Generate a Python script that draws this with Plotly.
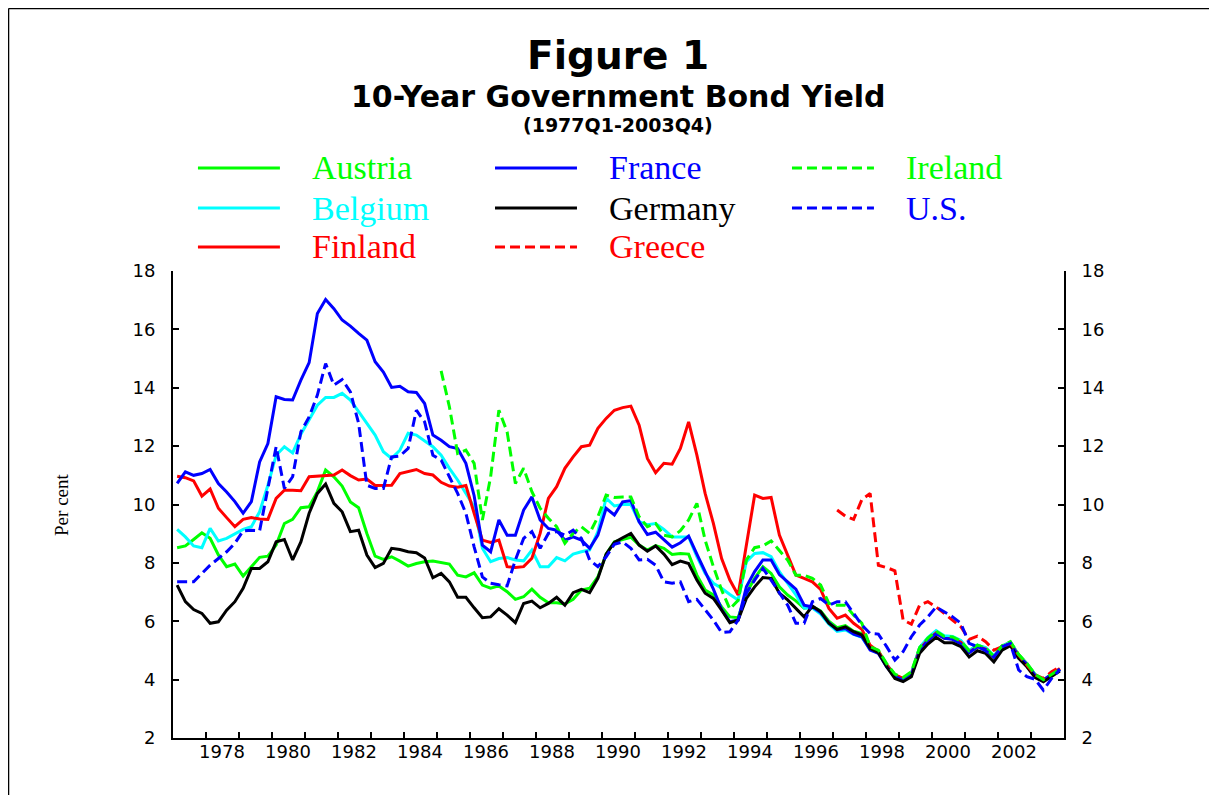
import plotly.graph_objects as go

# quarters 1977Q1 .. 2003Q4
quarters = [f"{y}Q{q}" for y in range(1977, 2004) for q in range(1, 5)]

austria = [8.52, 8.58, 8.80, 9.03, 8.84, 8.27, 7.87, 7.96, 7.55, 7.89,
           8.19, 8.23, 8.61, 9.35, 9.49, 9.89, 9.92, 10.44, 11.18, 10.95,
           10.63, 10.09, 9.89, 9.01, 8.23, 8.12, 8.21, 8.06, 7.89, 7.98,
           8.04, 8.06, 8.01, 7.96, 7.58, 7.52, 7.66, 7.24, 7.13, 7.21,
           7.01, 6.75, 6.84, 7.10, 6.82, 6.63, 6.63, 6.59, 6.75, 7.07,
           7.13, 7.52, 8.30, 8.72, 8.80, 8.88, 8.61, 8.44, 8.59, 8.50,
           8.29, 8.32, 8.30, 7.58, 7.07, 6.90, 6.49, 6.15, 6.12, 6.96,
           7.47, 7.87, 7.64, 7.18, 6.90, 6.70, 6.45, 6.50, 6.35, 6.00,
           5.78, 5.85, 5.66, 5.58, 5.12, 4.98, 4.52, 4.15, 4.03, 4.22,
           5.08, 5.40, 5.65, 5.46, 5.45, 5.32, 4.98, 5.18, 5.08, 4.80,
           5.15, 5.28, 4.86, 4.55, 4.18, 3.98, 4.18, 4.36]

belgium = [9.15, 8.89, 8.58, 8.52, 9.18, 8.75, 8.84, 8.99, 9.15, 9.24,
           9.75, 10.66, 11.69, 11.98, 11.77, 12.41, 12.89, 13.40, 13.67, 13.67,
           13.81, 13.58, 13.18, 12.78, 12.38, 11.81, 11.58, 11.86, 12.44, 12.38,
           12.17, 11.98, 11.69, 11.24, 10.84, 10.38, 9.92, 8.50, 8.04, 8.15,
           8.18, 8.10, 8.07, 8.44, 7.87, 7.87, 8.18, 8.07, 8.30, 8.38,
           8.44, 9.07, 10.22, 9.95, 10.00, 10.00, 9.41, 9.31, 9.35, 9.15,
           8.89, 8.89, 8.89, 8.21, 7.64, 7.30, 7.13, 6.92, 6.73, 8.04,
           8.32, 8.35, 8.21, 7.70, 7.30, 6.90, 6.45, 6.45, 6.25, 5.90,
           5.65, 5.70, 5.55, 5.45, 5.05, 4.92, 4.50, 4.15, 4.02, 4.22,
           5.10, 5.44, 5.68, 5.50, 5.48, 5.34, 5.00, 5.18, 5.10, 4.82,
           5.14, 5.28, 4.84, 4.54, 4.17, 3.99, 4.17, 4.35]

finland = [10.97, 10.92, 10.81, 10.29, 10.53, 9.87, 9.55, 9.24, 9.49, 9.55,
           9.50, 9.49, 10.21, 10.49, 10.49, 10.47, 10.95, 10.97, 11.01, 11.01,
           11.18, 10.99, 10.84, 10.87, 10.65, 10.66, 10.66, 11.06, 11.12, 11.20,
           11.06, 11.01, 10.76, 10.63, 10.59, 10.65, 9.70, 8.78, 8.70, 8.78,
           7.87, 7.84, 7.87, 8.16, 9.01, 10.21, 10.61, 11.24, 11.63, 11.98,
           12.03, 12.61, 12.95, 13.23, 13.32, 13.37, 12.72, 11.58, 11.09, 11.41,
           11.38, 11.92, 12.83, 11.69, 10.38, 9.35, 8.15, 7.41, 6.90, 8.67,
           10.32, 10.21, 10.24, 8.95, 8.27, 7.58, 7.47, 7.35, 7.09, 6.44,
           6.10, 6.21, 5.93, 5.72, 5.18, 4.96, 4.50, 4.16, 4.04, 4.18,
           5.04, 5.36, 5.60, 5.42, 5.40, 5.28, 4.94, 5.14, 5.05, 4.78,
           5.12, 5.24, 4.82, 4.52, 4.14, 3.98, 4.16, 4.38]

france = [10.72, 11.12, 11.00, 11.06, 11.20, 10.72, 10.43, 10.10, 9.70, 10.10,
          11.46, 12.09, 13.69, 13.60, 13.58, 14.26, 14.86, 16.54, 17.02, 16.71,
          16.32, 16.11, 15.86, 15.63, 14.89, 14.54, 14.01, 14.05, 13.86, 13.84,
          13.46, 12.38, 12.20, 11.98, 11.92, 11.41, 10.30, 8.61, 8.38, 9.47,
          8.95, 8.95, 9.81, 10.26, 9.47, 9.18, 9.12, 8.78, 8.89, 8.78,
          8.50, 8.95, 9.87, 9.64, 10.09, 10.13, 9.41, 8.97, 9.05, 8.78,
          8.54, 8.69, 8.92, 8.30, 7.70, 7.10, 6.40, 5.98, 6.04, 7.18,
          7.70, 8.10, 8.10, 7.60, 7.35, 7.10, 6.55, 6.49, 6.30, 5.95,
          5.70, 5.75, 5.56, 5.47, 5.01, 4.90, 4.44, 4.10, 3.99, 4.16,
          4.98, 5.35, 5.57, 5.42, 5.38, 5.22, 4.92, 5.12, 5.03, 4.77,
          5.10, 5.24, 4.80, 4.52, 4.14, 3.99, 4.18, 4.35]

germany = [7.24, 6.67, 6.40, 6.27, 5.93, 5.98, 6.38, 6.67, 7.13, 7.81,
           7.81, 8.04, 8.72, 8.80, 8.10, 8.72, 9.70, 10.38, 10.70, 10.04,
           9.75, 9.07, 9.12, 8.27, 7.84, 7.98, 8.50, 8.46, 8.38, 8.35,
           8.17, 7.49, 7.64, 7.35, 6.82, 6.82, 6.46, 6.12, 6.15, 6.43,
           6.21, 5.95, 6.61, 6.69, 6.46, 6.61, 6.82, 6.55, 6.98, 7.09,
           6.98, 7.47, 8.30, 8.70, 8.86, 9.01, 8.61, 8.40, 8.58, 8.30,
           7.94, 8.06, 7.98, 7.41, 6.96, 6.78, 6.38, 5.95, 6.04, 6.78,
           7.18, 7.50, 7.47, 6.96, 6.73, 6.44, 6.15, 6.52, 6.33, 5.93,
           5.72, 5.81, 5.64, 5.53, 5.07, 4.92, 4.44, 4.04, 3.93, 4.10,
           4.90, 5.22, 5.45, 5.26, 5.26, 5.13, 4.78, 4.99, 4.90, 4.61,
           5.01, 5.16, 4.73, 4.44, 4.07, 3.93, 4.12, 4.30]

greece = [None] * 80 + [
    9.81, 9.60, 9.49, 10.17, 10.38, 7.92, 7.84, 7.73, 6.04, 5.90,
    6.55, 6.67, 6.49, 6.27, 6.06, 5.81, 5.38, 5.49, 5.30, 5.01,
    5.13, 5.24, 4.84, 4.50, 4.16, 4.04, 4.27, 4.44]

ireland = [None] * 32 + [
    14.58, 13.35, 11.75, 11.86, 11.41, 9.47, 10.95, 13.23,
    12.49, 10.72, 11.24, 10.44, 9.87, 9.53, 9.24, 8.67, 9.01, 9.24,
    9.01, 9.58, 10.32, 10.24, 10.26, 10.26, 9.58, 9.24, 9.35, 8.95,
    8.89, 9.10, 9.47, 10.04, 8.78, 7.87, 7.07, 6.42, 6.72, 8.10,
    8.52, 8.58, 8.75, 8.44, 8.10, 7.58, 7.58, 7.47, 7.24, 6.61,
    6.55, 6.55, 6.21, 5.93, 5.13, 5.01, 4.55, 4.19, 4.07, 4.27,
    5.10, 5.42, 5.66, 5.48, 5.46, 5.32, 4.99, 5.18, 5.08, 4.80,
    5.16, 5.30, 4.86, 4.55, 4.18, 4.00, 4.18, 4.36]

us = [7.35, 7.35, 7.35, 7.64, 7.92, 8.15, 8.38, 8.67, 9.10, 9.12,
      9.10, 10.55, 11.98, 10.55, 10.95, 12.49, 13.00, 13.75, 14.83, 14.09,
      14.28, 13.86, 12.78, 10.66, 10.55, 10.55, 11.63, 11.66, 11.92, 13.23,
      12.83, 11.69, 11.52, 10.95, 10.38, 9.70, 8.55, 7.52, 7.30, 7.25,
      7.21, 8.10, 8.84, 9.07, 8.50, 9.01, 9.07, 8.95, 9.12, 8.84,
      8.10, 7.87, 8.21, 8.64, 8.72, 8.50, 8.10, 8.12, 7.92, 7.35,
      7.30, 7.35, 6.67, 6.75, 6.38, 6.04, 5.61, 5.64, 6.04, 6.96,
      7.41, 7.81, 7.41, 6.96, 6.55, 5.93, 5.93, 6.67, 6.78, 6.55,
      6.67, 6.67, 6.27, 5.87, 5.58, 5.56, 5.13, 4.67, 4.96, 5.47,
      5.87, 6.15, 6.49, 6.33, 6.15, 5.93, 5.24, 5.13, 4.99, 4.78,
      5.13, 5.24, 4.33, 4.10, 4.01, 3.64, 4.04, 4.35]

year_ticks = list(range(1977, 2005))
year_labels = [str(y) if y % 2 == 0 and y < 2004 else "" for y in year_ticks]
y_ticks = [2, 4, 6, 8, 10, 12, 14, 16, 18]

# quarter -> decimal year, centred in the quarter
t = [int(q[:4]) + (int(q[-1]) - 0.5) / 4 for q in quarters]

GREEN, CYAN, RED, BLUE, BLACK = "#00ff00", "#00ffff", "#ff0000", "#0000ff", "#000000"
DASH = "10px,5px"

# name, values, colour, dash, legend row, legend column
series = [
    ("Austria", austria, GREEN, "solid", 0, 0),
    ("Belgium", belgium, CYAN, "solid", 1, 0),
    ("Finland", finland, RED, "solid", 2, 0),
    ("France", france, BLUE, "solid", 0, 1),
    ("Germany", germany, BLACK, "solid", 1, 1),
    ("Greece", greece, RED, DASH, 2, 1),
    ("Ireland", ireland, GREEN, DASH, 0, 2),
    ("U.S.", us, BLUE, DASH, 1, 2),
]

fig = go.Figure()
for name, vals, col, dash, r, c in series:
    fig.add_trace(go.Scatter(x=t, y=vals, mode="lines", name=name,
                             line=dict(color=col, width=3, dash=dash),
                             connectgaps=False, showlegend=False))
# invisible point so the right-hand axis is drawn
fig.add_trace(go.Scatter(x=[1977], y=[2], yaxis="y2", mode="markers",
                         marker=dict(opacity=0), showlegend=False, hoverinfo="skip"))

# hand-made legend, 3 columns
col_x = [0.028, 0.3614, 0.6947]
row_y = [1.2206, 1.1349, 1.0514]
seg = 0.092
for name, vals, col, dash, r, c in series:
    fig.add_shape(type="line", xref="paper", yref="paper",
                  x0=col_x[c], x1=col_x[c] + seg, y0=row_y[r], y1=row_y[r],
                  line=dict(color=col, width=3, dash=dash))
    fig.add_annotation(xref="paper", yref="paper", x=col_x[c] + seg + 0.034, y=row_y[r],
                       text=name, showarrow=False, xanchor="left", yanchor="middle",
                       font=dict(family="Liberation Serif, Times New Roman, serif", size=34, color=col))

# title block
titles = [
    ("<b>Figure 1</b>", 1.4615, 39),
    ("<b>10-Year Government Bond Yield</b>", 1.3747, 30),
    ("<b>(1977Q1-2003Q4)</b>", 1.3137, 19),
]
for txt, yy, sz in titles:
    fig.add_annotation(xref="paper", yref="paper", x=0.4995, y=yy, text=txt, showarrow=False,
                       xanchor="center", yanchor="middle",
                       font=dict(family="DejaVu Sans, sans-serif", size=sz, color="black"))

fig.add_annotation(xref="paper", yref="paper", x=-0.1246, y=0.499, text="Per cent",
                   textangle=-90, showarrow=False, xanchor="center", yanchor="middle",
                   font=dict(family="Liberation Serif, Times New Roman, serif", size=19, color="black"))

# page frame along the top and left edges
fig.add_shape(type="line", xref="paper", yref="paper", x0=-0.1846, x1=1.2, y0=1.5621, y1=1.5621,
              line=dict(color="black", width=1.5))
fig.add_shape(type="line", xref="paper", yref="paper", x0=-0.1846, x1=-0.1846, y0=-0.15, y1=1.5621,
              line=dict(color="black", width=1.5))

axis_font = dict(family="DejaVu Sans, sans-serif", size=18, color="black")
fig.update_layout(
    width=1217, height=795,
    margin=dict(l=165, r=161, t=263, b=65),
    paper_bgcolor="white", plot_bgcolor="white",
    showlegend=False,
    xaxis=dict(range=[1977, 2004], tickmode="array", tickvals=year_ticks, ticktext=year_labels,
               ticks="inside", ticklen=6, tickwidth=1.5, tickcolor="black",
               ticklabelshift=16, ticklabelstandoff=-4,
               showline=True, linecolor="black", linewidth=2, showgrid=False, zeroline=False,
               tickfont=axis_font),
    yaxis=dict(range=[2, 18], tickmode="array", tickvals=y_ticks,
               ticks="inside", ticklen=6, tickwidth=1.5, tickcolor="black",
               ticklabelstandoff=12,
               showline=True, linecolor="black", linewidth=2, showgrid=False, zeroline=False,
               tickfont=axis_font),
    yaxis2=dict(range=[2, 18], tickmode="array", tickvals=y_ticks, overlaying="y", side="right",
                ticks="inside", ticklen=6, tickwidth=1.5, tickcolor="black",
                ticklabelstandoff=12,
                showline=True, linecolor="black", linewidth=2, showgrid=False, zeroline=False,
                tickfont=axis_font),
)

fig.write_html("out.html")
